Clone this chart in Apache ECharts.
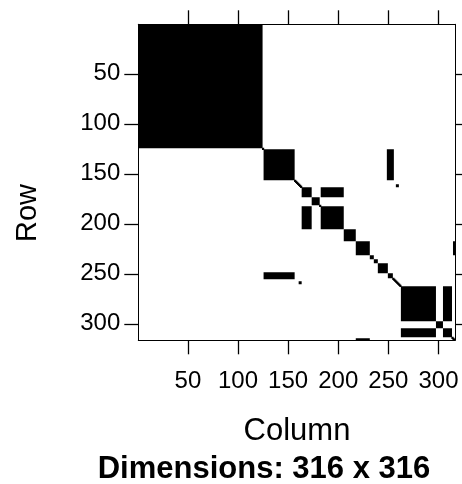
<!DOCTYPE html>
<html>
<head>
<meta charset="utf-8">
<script src="https://cdn.jsdelivr.net/npm/echarts@6/dist/echarts.min.js"></script>
<style>html,body{margin:0;padding:0;background:#fff}#c{width:462px;height:484px}</style>
</head>
<body>
<div id="c"></div>
<script>
// Matrix dimension
const nDim = 316;
// Tick values / labels
const tickValues = [50, 100, 150, 200, 250, 300];
const tickLabels = ['50', '100', '150', '200', '250', '300'];
// Dense diagonal blocks [start, end] (rows = cols)
const diagBlockStart = [1, 126, 164, 174, 183, 206, 218, 232, 236, 240, 250, 263, 298, 305];
const diagBlockEnd   = [124, 156, 173, 181, 205, 217, 231, 235, 239, 249, 254, 297, 304, 313];
// Single diagonal entries
const diagSingles = [125, 157, 158, 159, 160, 161, 162, 163, 182, 255, 256, 257, 258, 259, 260, 261, 262, 314, 315, 316];
// Off-diagonal blocks (upper triangle), mirrored by symmetry
const offRowStart = [164, 126, 161, 263, 218];
const offRowEnd   = [173, 156, 163, 297, 231];
const offColStart = [183, 249, 258, 305, 315];
const offColEnd   = [205, 255, 260, 313, 316];

const title = 'Dimensions: 316 x 316';
const xName = 'Column';
const yName = 'Row';

// Build rectangle list [r0, r1, c0, c1, isSingle]
const rects = [];
diagBlockStart.forEach((s, i) => rects.push([s, diagBlockEnd[i], s, diagBlockEnd[i], 0]));
diagSingles.forEach(d => rects.push([d, d, d, d, 1]));
offRowStart.forEach((s, i) => {
  rects.push([s, offRowEnd[i], offColStart[i], offColEnd[i], 0]);
  rects.push([offColStart[i], offColEnd[i], s, offRowEnd[i], 0]);
});

const chart = echarts.init(document.getElementById('c'), null, {renderer: 'canvas'});
const FONT = '"Liberation Sans", Arial, Helvetica, sans-serif';
const gl = 138.3, gt = 24.3, gw = 316.7, gh = 316;
const axisCommon = {
  type: 'value', min: 0.5, max: nDim + 0.5,
  splitLine: {show: false},
  axisLine: {show: true, lineStyle: {color: '#000', width: 1}},
  axisTick: {show: true, inside: false, length: 14, lineStyle: {color: '#000', width: 1.3}, customValues: tickValues},
};
chart.setOption({
  animation: false,
  backgroundColor: '#fff',
  grid: {left: gl, top: gt, width: gw, height: gh, show: false},
  xAxis: [
    Object.assign({}, axisCommon, {position: 'bottom',
      axisLabel: {show: true, customValues: tickValues, formatter: v => tickLabels[tickValues.indexOf(v)], margin: 29, color: '#000', fontSize: 24, fontFamily: FONT}}),
    Object.assign({}, axisCommon, {position: 'top', axisLabel: {show: false}})
  ],
  yAxis: [
    Object.assign({}, axisCommon, {position: 'left', inverse: true,
      axisLabel: {show: true, customValues: tickValues, formatter: v => tickLabels[tickValues.indexOf(v)], margin: 18, color: '#000', fontSize: 24, fontFamily: FONT}}),
    Object.assign({}, axisCommon, {position: 'right', inverse: true, axisLabel: {show: false}})
  ],
  series: [{
    type: 'custom',
    xAxisIndex: 0, yAxisIndex: 0,
    data: rects,
    clip: true,
    renderItem: function (params, api) {
      const r0 = api.value(0), r1 = api.value(1), c0 = api.value(2), c1 = api.value(3);
      const single = api.value(4) === 1;
      const p0 = api.coord([c0 - 0.5, r0 - 0.5]);
      const p1 = api.coord([c1 + 0.5, r1 + 0.5]);
      return {type: 'rect', shape: {x: p0[0], y: p0[1], width: p1[0] - p0[0], height: p1[1] - p0[1]},
        style: single ? {fill: '#000', stroke: '#000', lineWidth: 1.2} : {fill: '#000'}};
    }
  }],
  graphic: [
    {type: 'text', x: 297, y: 431, style: {text: xName, font: '31px ' + FONT, fill: '#000', textAlign: 'center', textVerticalAlign: 'middle'}},
    {type: 'text', x: 28, y: 213, rotation: Math.PI / 2, style: {text: yName, font: '29px ' + FONT, fill: '#000', textAlign: 'center', textVerticalAlign: 'middle'}},
    {type: 'text', x: 264, y: 469, style: {text: title, font: 'bold 31px ' + FONT, fill: '#000', textAlign: 'center', textVerticalAlign: 'middle'}}
  ]
});
</script>
</body>
</html>
